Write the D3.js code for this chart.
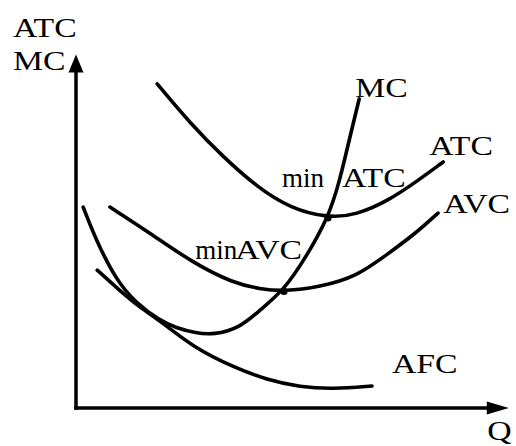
<!DOCTYPE html>
<html>
<head>
<meta charset="utf-8">
<script src="https://cdn.jsdelivr.net/npm/d3@7"></script>
<style>
  body { margin: 0; background: white; }
  svg text { font-family: "Liberation Serif", "Times New Roman", serif; font-size: 27px; fill: black; }
</style>
</head>
<body>
<svg id="chart" width="516" height="446"></svg>
<script>
// cost curves as [Q, cost] pairs
var mc  = [[0.18,5.74],[0.5,4.8],[1.0,3.66],[1.5,3.0],[2.08,2.51],[2.5,2.29],[3.0,2.14],
           [3.43,2.09],[4.1,2.29],[4.6,2.8],[5.2,3.37],[5.75,4.31],[6.3,5.43],[6.58,6.43],
           [6.83,7.66],[7.08,8.83]];
var atc = [[2.03,9.26],[2.85,8.14],[3.68,7.17],[4.53,6.31],[5.35,5.71],[6.3,5.43],[7.0,5.51],
           [7.83,5.94],[8.5,6.46],[9.18,7.03]];
var avc = [[0.85,5.74],[1.85,5.0],[2.93,4.14],[3.93,3.57],[4.6,3.4],[5.2,3.33],[6.1,3.46],
           [7.0,3.74],[7.83,4.43],[8.5,5.0],[9.05,5.57]];
var afc = [[0.53,3.94],[1.08,3.37],[1.58,2.89],[2.18,2.43],[2.93,1.74],[3.93,1.17],[4.78,0.8],
           [5.6,0.6],[6.43,0.54],[7.4,0.63]];

// min ATC and min AVC, where MC cuts through
var minPoints = [[6.3,5.43],[5.2,3.33]];

// text and where its baseline starts, in [Q, cost]
var labels = [
    {"text":"ATC", "q":-1.575, "c":10.6},
    {"text":"MC",  "q":-1.575, "c":9.66},
    {"text":"MC",  "q":6.98,   "c":8.89},
    {"text":"ATC", "q":8.83,   "c":7.23},
    {"text":"min", "q":5.15,   "c":6.31},
    {"text":"ATC", "q":6.65,   "c":6.31},
    {"text":"min", "q":2.98,   "c":4.26},
    {"text":"AVC", "q":3.98,   "c":4.26},
    {"text":"AVC", "q":9.18,   "c":5.57},
    {"text":"AFC", "q":7.9,    "c":1.0},
    {"text":"Q",   "q":10.28,  "c":-0.9}
];

var svg = d3.select("#chart");
var x = d3.scaleLinear().domain([0,10]).range([76,476]);
var y = d3.scaleLinear().domain([0,10]).range([408,58]);

// axes with arrow heads
var x0 = x(0), y0 = y(0);
var xEnd = x(10.82), yEnd = y(10.1);
svg.append("line").attr("x1",x0).attr("y1",y0+1.7).attr("x2",x0).attr("y2",yEnd+10)
    .attr("stroke","black").attr("stroke-width",3.5);
svg.append("line").attr("x1",x0-1.7).attr("y1",y0).attr("x2",xEnd-10).attr("y2",y0)
    .attr("stroke","black").attr("stroke-width",3.5);
svg.append("path")
    .attr("d","M"+x0+","+yEnd+" L"+(x0+7.5)+","+(yEnd+18)+" L"+(x0-7.5)+","+(yEnd+18)+" Z")
    .attr("fill","black");
svg.append("path")
    .attr("d","M"+xEnd+","+y0+" L"+(xEnd-22)+","+(y0-6.5)+" L"+(xEnd-22)+","+(y0+6.5)+" Z")
    .attr("fill","black");

var line = d3.line()
    .x(function(d) {return x(d[0]);})
    .y(function(d) {return y(d[1]);})
    .curve(d3.curveBasis);

svg.selectAll("path.curve").data([mc, atc, avc, afc]).enter()
    .append("path").attr("class","curve")
    .attr("d", line)
    .attr("fill","none").attr("stroke","black")
    .attr("stroke-width",3.6).attr("stroke-linecap","round");

svg.selectAll("circle").data(minPoints).enter()
    .append("circle")
    .attr("cx",function(d) {return x(d[0]);})
    .attr("cy",function(d) {return y(d[1]);})
    .attr("r",3.6).attr("fill","black");

// capitals in the picture are set wider than the lower case
svg.selectAll("text").data(labels).enter()
    .append("text")
    .attr("transform",function(d) {
        var sx = (d.text == d.text.toUpperCase()) ? 1.25 : 1;
        return "translate(" + x(d.q) + "," + y(d.c) + ") scale(" + sx + ",1)";
    })
    .text(function(d) {return d.text;});
</script>
</body>
</html>
